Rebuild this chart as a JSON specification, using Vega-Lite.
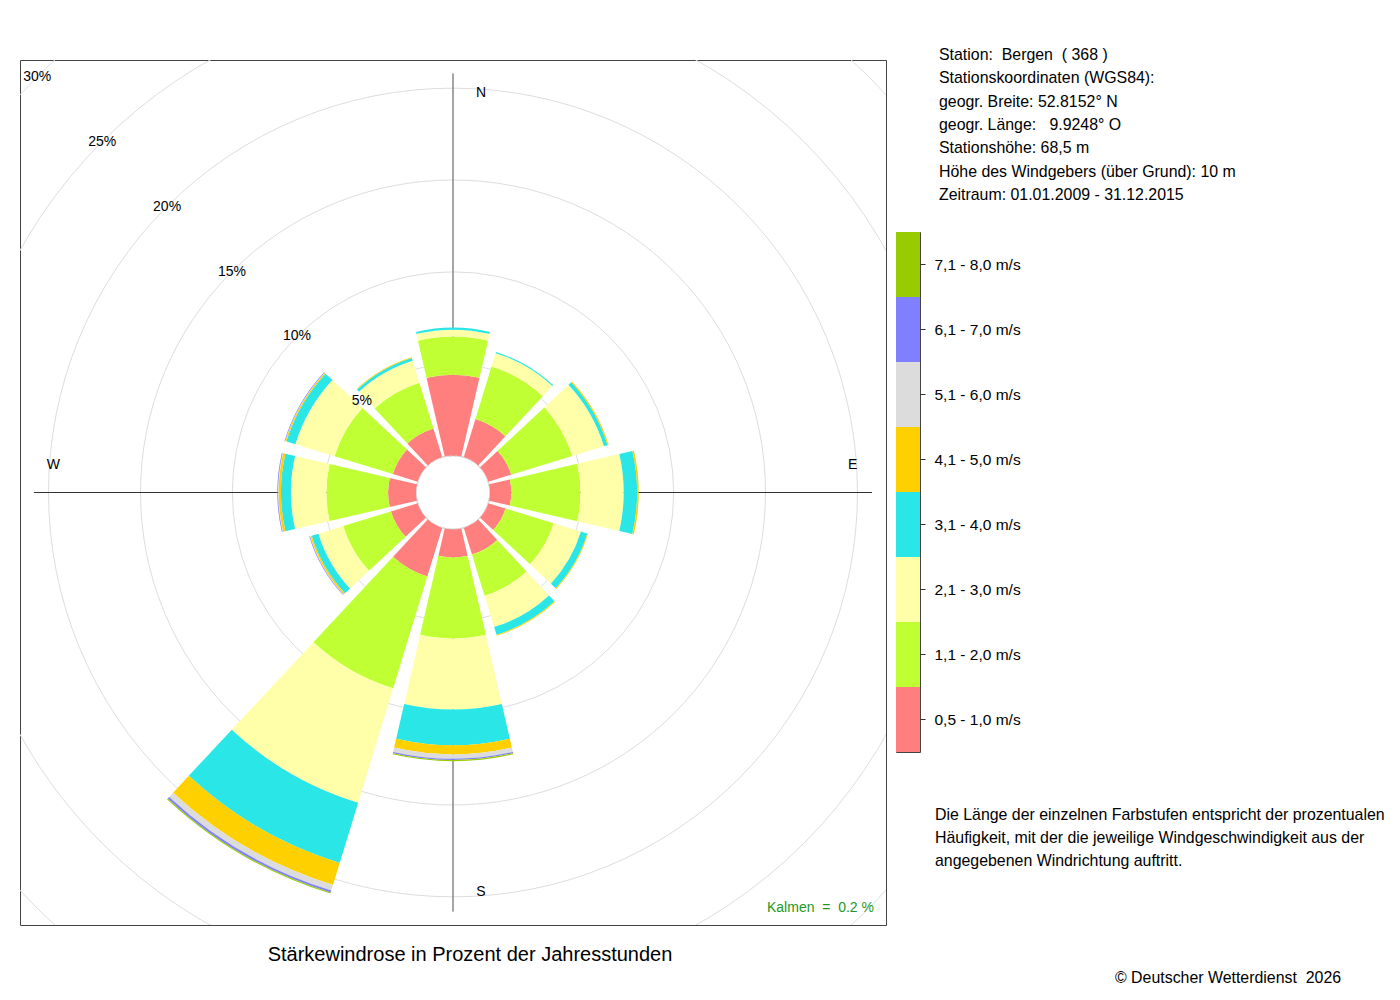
{
  "$schema": "https://vega.github.io/schema/vega-lite/v6.json",
  "description": "Staerkewindrose Bergen (368), 2009-2015",
  "background": "white",
  "padding": {"left": 19, "top": 47, "right": 0, "bottom": 0},
  "bounds": "flush",
  "spacing": 10,
  "config": {
    "font": "Liberation Sans",
    "view": {"stroke": "#444444", "strokeWidth": 1},
    "title": {"font": "Liberation Sans", "fontWeight": "normal", "color": "#000000"},
    "text": {"font": "Liberation Sans", "color": "#000000"},
    "axis": {"labelFont": "Liberation Sans"}
  },
  "datasets": {
    "rose": [
      {"dir": 0, "cls": "0,5 - 1,0 m/s", "pct": 4.40},
      {"dir": 0, "cls": "1,1 - 2,0 m/s", "pct": 2.07},
      {"dir": 0, "cls": "2,1 - 3,0 m/s", "pct": 0.38},
      {"dir": 0, "cls": "3,1 - 4,0 m/s", "pct": 0.11},
      {"dir": 30, "cls": "0,5 - 1,0 m/s", "pct": 2.17},
      {"dir": 30, "cls": "1,1 - 2,0 m/s", "pct": 2.99},
      {"dir": 30, "cls": "2,1 - 3,0 m/s", "pct": 0.76},
      {"dir": 30, "cls": "3,1 - 4,0 m/s", "pct": 0.06},
      {"dir": 60, "cls": "0,5 - 1,0 m/s", "pct": 1.30},
      {"dir": 60, "cls": "1,1 - 2,0 m/s", "pct": 3.48},
      {"dir": 60, "cls": "2,1 - 3,0 m/s", "pct": 1.80},
      {"dir": 60, "cls": "3,1 - 4,0 m/s", "pct": 0.21},
      {"dir": 60, "cls": "4,1 - 5,0 m/s", "pct": 0.06},
      {"dir": 90, "cls": "0,5 - 1,0 m/s", "pct": 1.16},
      {"dir": 90, "cls": "1,1 - 2,0 m/s", "pct": 3.77},
      {"dir": 90, "cls": "2,1 - 3,0 m/s", "pct": 2.35},
      {"dir": 90, "cls": "3,1 - 4,0 m/s", "pct": 0.73},
      {"dir": 90, "cls": "4,1 - 5,0 m/s", "pct": 0.09},
      {"dir": 120, "cls": "0,5 - 1,0 m/s", "pct": 0.98},
      {"dir": 120, "cls": "1,1 - 2,0 m/s", "pct": 2.74},
      {"dir": 120, "cls": "2,1 - 3,0 m/s", "pct": 1.55},
      {"dir": 120, "cls": "3,1 - 4,0 m/s", "pct": 0.36},
      {"dir": 120, "cls": "4,1 - 5,0 m/s", "pct": 0.05},
      {"dir": 150, "cls": "0,5 - 1,0 m/s", "pct": 1.52},
      {"dir": 150, "cls": "1,1 - 2,0 m/s", "pct": 2.34},
      {"dir": 150, "cls": "2,1 - 3,0 m/s", "pct": 1.79},
      {"dir": 150, "cls": "3,1 - 4,0 m/s", "pct": 0.44},
      {"dir": 150, "cls": "4,1 - 5,0 m/s", "pct": 0.05},
      {"dir": 180, "cls": "0,5 - 1,0 m/s", "pct": 1.52},
      {"dir": 180, "cls": "1,1 - 2,0 m/s", "pct": 4.42},
      {"dir": 180, "cls": "2,1 - 3,0 m/s", "pct": 3.86},
      {"dir": 180, "cls": "3,1 - 4,0 m/s", "pct": 1.94},
      {"dir": 180, "cls": "4,1 - 5,0 m/s", "pct": 0.50},
      {"dir": 180, "cls": "5,1 - 6,0 m/s", "pct": 0.24},
      {"dir": 180, "cls": "6,1 - 7,0 m/s", "pct": 0.07},
      {"dir": 180, "cls": "7,1 - 8,0 m/s", "pct": 0.06},
      {"dir": 210, "cls": "0,5 - 1,0 m/s", "pct": 2.77},
      {"dir": 210, "cls": "1,1 - 2,0 m/s", "pct": 6.36},
      {"dir": 210, "cls": "2,1 - 3,0 m/s", "pct": 6.52},
      {"dir": 210, "cls": "3,1 - 4,0 m/s", "pct": 3.43},
      {"dir": 210, "cls": "4,1 - 5,0 m/s", "pct": 1.25},
      {"dir": 210, "cls": "5,1 - 6,0 m/s", "pct": 0.32},
      {"dir": 210, "cls": "6,1 - 7,0 m/s", "pct": 0.11},
      {"dir": 210, "cls": "7,1 - 8,0 m/s", "pct": 0.06},
      {"dir": 240, "cls": "0,5 - 1,0 m/s", "pct": 1.52},
      {"dir": 240, "cls": "1,1 - 2,0 m/s", "pct": 2.72},
      {"dir": 240, "cls": "2,1 - 3,0 m/s", "pct": 1.41},
      {"dir": 240, "cls": "3,1 - 4,0 m/s", "pct": 0.38},
      {"dir": 240, "cls": "4,1 - 5,0 m/s", "pct": 0.08},
      {"dir": 240, "cls": "5,1 - 6,0 m/s", "pct": 0.03},
      {"dir": 240, "cls": "6,1 - 7,0 m/s", "pct": 0.03},
      {"dir": 270, "cls": "0,5 - 1,0 m/s", "pct": 1.52},
      {"dir": 270, "cls": "1,1 - 2,0 m/s", "pct": 3.36},
      {"dir": 270, "cls": "2,1 - 3,0 m/s", "pct": 1.93},
      {"dir": 270, "cls": "3,1 - 4,0 m/s", "pct": 0.54},
      {"dir": 270, "cls": "4,1 - 5,0 m/s", "pct": 0.13},
      {"dir": 270, "cls": "5,1 - 6,0 m/s", "pct": 0.03},
      {"dir": 270, "cls": "6,1 - 7,0 m/s", "pct": 0.04},
      {"dir": 300, "cls": "0,5 - 1,0 m/s", "pct": 1.41},
      {"dir": 300, "cls": "1,1 - 2,0 m/s", "pct": 3.32},
      {"dir": 300, "cls": "2,1 - 3,0 m/s", "pct": 2.23},
      {"dir": 300, "cls": "3,1 - 4,0 m/s", "pct": 0.51},
      {"dir": 300, "cls": "4,1 - 5,0 m/s", "pct": 0.06},
      {"dir": 300, "cls": "5,1 - 6,0 m/s", "pct": 0.02},
      {"dir": 300, "cls": "6,1 - 7,0 m/s", "pct": 0.03},
      {"dir": 330, "cls": "0,5 - 1,0 m/s", "pct": 1.63},
      {"dir": 330, "cls": "1,1 - 2,0 m/s", "pct": 2.61},
      {"dir": 330, "cls": "2,1 - 3,0 m/s", "pct": 1.25},
      {"dir": 330, "cls": "3,1 - 4,0 m/s", "pct": 0.16},
      {"dir": 330, "cls": "4,1 - 5,0 m/s", "pct": 0.03}
    ],
    "grid": [
      {"g": 0, "label": ""},
      {"g": 5, "label": "5%"},
      {"g": 10, "label": "10%"},
      {"g": 15, "label": "15%"},
      {"g": 20, "label": "20%"},
      {"g": 25, "label": "25%"},
      {"g": 30, "label": "30%"}
    ],
    "classes": [
      {"cls": "0,5 - 1,0 m/s"},
      {"cls": "1,1 - 2,0 m/s"},
      {"cls": "2,1 - 3,0 m/s"},
      {"cls": "3,1 - 4,0 m/s"},
      {"cls": "4,1 - 5,0 m/s"},
      {"cls": "5,1 - 6,0 m/s"},
      {"cls": "6,1 - 7,0 m/s"},
      {"cls": "7,1 - 8,0 m/s"}
    ]
  },
  "hconcat": [
    {
      "width": 866,
      "height": 865,
      "title": {
        "text": "Stärkewindrose in Prozent der Jahresstunden",
        "orient": "bottom",
        "anchor": "middle",
        "dx": 17,
        "offset": 20,
        "fontSize": 20
      },
      "layer": [
        {
          "data": {"name": "grid"},
          "mark": {"type": "arc", "filled": false, "stroke": "#dddddd", "strokeWidth": 1, "clip": true},
          "encoding": {
            "theta": {"datum": 0, "type": "quantitative", "scale": {"domain": [0, 360], "range": [0, 6.283185307179586]}},
            "theta2": {"datum": 360},
            "radius": {"field": "g", "type": "quantitative", "stack": null, "scale": {"type": "linear", "domain": [0, 30], "range": [37, 588]}}
          }
        },
        {
          "data": {"values": [{"a": 0}, {"a": 180}]},
          "mark": {"type": "arc", "filled": false, "stroke": "#888888", "strokeWidth": 1},
          "encoding": {
            "theta": {"field": "a", "type": "quantitative"},
            "theta2": {"field": "a"},
            "radius": {"datum": 20.8}
          }
        },
        {
          "data": {"values": [{"a": 90}, {"a": 270}]},
          "mark": {"type": "arc", "filled": false, "stroke": "#333333", "strokeWidth": 1},
          "encoding": {
            "theta": {"field": "a", "type": "quantitative"},
            "theta2": {"field": "a"},
            "radius": {"datum": 20.8}
          }
        },
        {
          "data": {"name": "rose"},
          "transform": [
            {"stack": "pct", "groupby": ["dir"], "sort": [{"field": "cls", "order": "ascending"}], "as": ["p0", "p1"]},
            {"calculate": "datum.dir - 13", "as": "t0"},
            {"calculate": "datum.dir + 13", "as": "t1"}
          ],
          "mark": {"type": "arc"},
          "encoding": {
            "theta": {"field": "t0", "type": "quantitative"},
            "theta2": {"field": "t1"},
            "radius": {"field": "p0", "type": "quantitative"},
            "radius2": {"field": "p1"},
            "color": {
              "field": "cls",
              "type": "nominal",
              "scale": {
                "domain": ["0,5 - 1,0 m/s", "1,1 - 2,0 m/s", "2,1 - 3,0 m/s", "3,1 - 4,0 m/s", "4,1 - 5,0 m/s", "5,1 - 6,0 m/s", "6,1 - 7,0 m/s", "7,1 - 8,0 m/s"],
                "range": ["#ff7f7f", "#bfff33", "#ffffaa", "#2ae6e6", "#ffd000", "#dcdcdc", "#8080ff", "#99cc00"]
              },
              "legend": null
            }
          }
        },
        {
          "data": {"name": "grid"},
          "transform": [{"filter": "datum.g > 0"}],
          "mark": {"type": "text", "fontSize": 14, "align": "center", "baseline": "middle"},
          "encoding": {
            "theta": {"datum": 315},
            "radius": {"field": "g", "type": "quantitative", "stack": null},
            "text": {"field": "label"}
          }
        },
        {
          "data": {"values": [{"lab": "N", "a": 0}, {"lab": "S", "a": 180}]},
          "mark": {"type": "text", "fontSize": 14, "align": "center", "baseline": "middle", "dx": 28},
          "encoding": {
            "theta": {"field": "a", "type": "quantitative"},
            "radius": {"datum": 19.75},
            "text": {"field": "lab"}
          }
        },
        {
          "data": {"values": [{"lab": "E", "a": 90}, {"lab": "W", "a": 270}]},
          "mark": {"type": "text", "fontSize": 14, "align": "center", "baseline": "middle", "dy": -28},
          "encoding": {
            "theta": {"field": "a", "type": "quantitative"},
            "radius": {"datum": 19.75},
            "text": {"field": "lab"}
          }
        },
        {
          "data": {"values": [{"label": "Kalmen\u00a0 =\u00a0 0.2 %"}]},
          "mark": {"type": "text", "fontSize": 14, "align": "right", "baseline": "middle", "dx": -12, "dy": -17, "color": "#229922"},
          "encoding": {
            "x": {"value": "width"},
            "y": {"value": "height"},
            "text": {"field": "label"}
          }
        }
      ]
    },
    {
      "spacing": 32,
      "bounds": "flush",
      "vconcat": [
        {
          "width": 86,
          "height": 140,
          "view": {"stroke": null},
          "data": {
            "values": [
              {"line": 1, "text": "Station:\u00a0 Bergen\u00a0 ( 368 )"},
              {"line": 2, "text": "Stationskoordinaten (WGS84):"},
              {"line": 3, "text": "geogr. Breite: 52.8152° N"},
              {"line": 4, "text": "geogr. Länge:\u00a0\u00a0 9.9248° O"},
              {"line": 5, "text": "Stationshöhe: 68,5 m"},
              {"line": 6, "text": "Höhe des Windgebers (über Grund): 10 m"},
              {"line": 7, "text": "Zeitraum: 01.01.2009 - 31.12.2015"}
            ]
          },
          "mark": {"type": "text", "align": "left", "baseline": "middle", "dy": -5, "fontSize": 15.9},
          "encoding": {
            "y": {"field": "line", "type": "ordinal", "scale": {"type": "point", "padding": 0}, "axis": null},
            "text": {"field": "text"}
          }
        },
        {
          "width": 24,
          "height": 520,
          "data": {"name": "classes"},
          "mark": {"type": "rect"},
          "encoding": {
            "y": {
              "field": "cls",
              "type": "ordinal",
              "sort": "descending",
              "scale": {"paddingInner": 0, "paddingOuter": 0},
              "axis": {
                "orient": "right",
                "title": null,
                "domain": false,
                "grid": false,
                "ticks": true,
                "tickSize": 5,
                "tickColor": "#333333",
                "labelPadding": 9,
                "labelFontSize": 15.5,
                "labelColor": "#000000"
              }
            },
            "color": {
              "field": "cls",
              "type": "nominal",
              "scale": {
                "domain": ["0,5 - 1,0 m/s", "1,1 - 2,0 m/s", "2,1 - 3,0 m/s", "3,1 - 4,0 m/s", "4,1 - 5,0 m/s", "5,1 - 6,0 m/s", "6,1 - 7,0 m/s", "7,1 - 8,0 m/s"],
                "range": ["#ff7f7f", "#bfff33", "#ffffaa", "#2ae6e6", "#ffd000", "#dcdcdc", "#8080ff", "#99cc00"]
              },
              "legend": null
            }
          }
        },
        {
          "width": 78,
          "height": 46,
          "view": {"stroke": null},
          "title": {
            "text": "© Deutscher Wetterdienst\u00a0 2026",
            "orient": "bottom",
            "anchor": "start",
            "frame": "group",
            "dx": 219,
            "offset": 101,
            "fontSize": 15.9
          },
          "data": {
            "values": [
              {"line": 1, "text": "Die Länge der einzelnen Farbstufen entspricht der prozentualen"},
              {"line": 2, "text": "Häufigkeit, mit der die jeweilige Windgeschwindigkeit aus der"},
              {"line": 3, "text": "angegebenen Windrichtung auftritt."}
            ]
          },
          "mark": {"type": "text", "align": "left", "baseline": "middle", "dy": 31, "fontSize": 15.9},
          "encoding": {
            "y": {"field": "line", "type": "ordinal", "scale": {"type": "point", "padding": 0}, "axis": null},
            "text": {"field": "text"}
          }
        }
      ]
    }
  ]
}
